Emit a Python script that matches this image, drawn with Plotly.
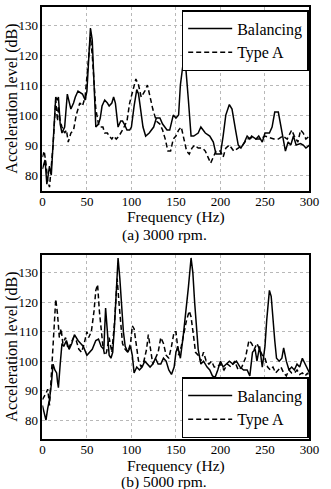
import plotly.graph_objects as go

# ---- (a) 3000 rpm ----
a_bal_f = [0, 2, 3, 5, 8, 10, 12, 14, 15, 17, 18, 20, 22, 25, 27, 28, 32, 35, 37, 40, 45, 48, 50, 52, 54, 56, 58, 60, 63, 65, 67, 70, 73, 75, 78, 80, 82, 85, 88, 90, 92, 95, 98, 100, 103, 106, 108, 110, 113, 116, 120, 125, 128, 132, 135, 140, 143, 147, 150, 153, 155, 158, 161, 164, 167, 170, 175, 178, 183, 188, 192, 195, 198, 200, 203, 206, 210, 213, 217, 220, 223, 227, 230, 233, 235, 240, 243, 247, 250, 255, 258, 261, 265, 268, 271, 273, 276, 279, 282, 285, 290, 293, 296, 300]
a_bal_db = [82, 84, 85, 77, 83, 80, 90, 100, 106, 105, 106, 97, 94, 96, 103, 107, 102, 104, 106, 108, 107, 105, 108, 118, 129, 125, 110, 96, 97, 99, 103, 105, 104, 103, 104, 106, 104, 96, 98, 98, 97, 95, 95, 96, 103, 108.5, 107, 103, 96, 93, 94, 96, 99, 99, 97, 95, 95, 100, 99, 100, 110, 117, 116, 105, 93, 93, 94, 96, 94, 93, 91, 87, 87, 87, 93, 100, 103.5, 102, 95, 90, 89, 91, 93, 92, 93, 92, 93, 91, 94, 94, 96, 101, 101, 96, 91, 88, 91, 90, 93, 90, 90.5, 90, 89, 90]

a_typ_f = [0, 2, 4, 6, 8, 10, 12, 14, 15, 17, 18, 20, 22, 25, 27, 29, 32, 35, 38, 42, 45, 48, 52, 54, 56, 58, 60, 63, 65, 68, 70, 73, 75, 78, 80, 83, 86, 90, 95, 98, 102, 105, 108, 111, 115, 118, 121, 124, 128, 132, 135, 138, 141, 144, 147, 150, 153, 156, 159, 162, 165, 168, 171, 175, 180, 183, 186, 189, 192, 195, 200, 203, 206, 210, 215, 220, 225, 230, 235, 240, 245, 250, 255, 260, 265, 270, 275, 280, 283, 287, 290, 293, 296, 300]
a_typ_db = [86, 88, 84, 78, 76, 82, 90, 100, 105, 98, 103, 98, 96, 94, 95, 91, 94, 95, 100, 104, 103, 106, 119, 126, 120, 110, 102, 97, 96, 96, 94, 94, 93, 92, 93, 92, 93, 95, 98, 104, 109, 112, 110, 106, 108, 110, 106, 102, 98, 97, 95, 92, 88, 88, 92, 93, 95, 96, 92, 88, 87, 89, 90, 89, 89, 88, 86, 84, 86, 88, 88, 86, 89, 90, 88, 89, 90, 92, 92.5, 92, 92, 93, 92.5, 92, 92, 93, 92, 95, 93, 91, 95, 94, 92, 93]

# ---- (b) 5000 rpm ----
b_bal_f = [0, 2, 4, 6, 8, 10, 12, 14, 16, 17, 18, 20, 22, 24, 27, 30, 33, 36, 40, 43, 46, 50, 53, 56, 60, 63, 66, 69, 71, 73, 75, 77, 79, 81, 83, 85, 87, 89, 91, 93, 96, 99, 101, 103, 106, 109, 112, 115, 118, 121, 124, 127, 130, 133, 136, 139, 142, 145, 148, 150, 152, 155, 158, 161, 164, 167, 169, 171, 173, 175, 178, 181, 185, 188, 191, 194, 197, 200, 203, 206, 210, 214, 218, 222, 226, 230, 233, 236, 239, 241, 244, 247, 250, 252, 255, 257, 259, 261, 263, 266, 269, 271, 274, 277, 280, 283, 286, 289, 292, 295, 298, 300]
b_bal_db = [85, 82, 80, 84, 87, 92, 99, 97, 96, 93, 91, 99, 106, 105, 107, 104, 106, 109, 107, 106, 105, 102, 103, 104, 107, 107.5, 105, 104, 118, 110, 102, 101, 103, 112, 125, 135, 128, 118, 110, 105, 103, 105, 102, 96, 98, 97, 98, 100, 99, 98, 99, 101, 99, 99, 101, 100, 97, 95.5, 98, 103, 105, 101, 108, 116, 125, 135, 130, 120, 111, 104, 99, 100, 98, 97, 95, 94.5, 97, 100, 98, 99, 100, 99, 100, 98, 97, 97, 95, 103, 104, 100, 105, 98, 105, 114, 124, 122, 113, 107, 101, 100, 101, 104.5, 100, 97, 98, 97, 99, 98, 101, 99, 97, 96]

b_typ_f = [0, 2, 4, 6, 8, 10, 12, 14, 15, 17, 19, 21, 23, 26, 29, 32, 35, 38, 41, 44, 47, 50, 52, 55, 58, 60, 62, 64, 66, 68, 70, 72, 75, 78, 81, 84, 86, 88, 90, 93, 96, 99, 101, 103, 105, 108, 111, 114, 117, 119, 121, 124, 127, 130, 133, 136, 139, 142, 145, 148, 150, 153, 156, 159, 162, 165, 167, 170, 172, 175, 178, 181, 184, 187, 190, 193, 196, 200, 204, 208, 212, 216, 220, 224, 228, 232, 235, 238, 241, 244, 247, 250, 253, 256, 259, 262, 265, 268, 271, 274, 277, 280, 283, 286, 289, 292, 295, 298, 300]
b_typ_db = [87, 88, 89, 90.5, 85, 95, 105, 115, 121, 116, 108, 111, 106, 108, 104, 106, 108, 107, 104, 103, 106, 110, 108, 110, 117, 124, 126, 117, 110, 105, 102, 103, 108, 103, 113, 128, 120, 112, 106, 104, 103, 106, 112, 111, 106, 100, 98, 100, 104, 109, 105, 99, 101, 103, 108, 106, 102, 101, 105, 110, 110, 102, 105, 110, 114, 117, 115, 108, 103, 102, 100, 103, 100, 99, 100, 98, 98, 99, 97, 99, 98, 100, 97, 98, 101, 107, 106, 104, 106, 104, 102, 101, 98, 97, 98, 96, 97, 98, 96, 95, 97, 96, 96, 97, 95.5, 96, 95, 96, 94]

x_ticks = [0, 50, 100, 150, 200, 250, 300]
y_ticks = [80, 90, 100, 110, 120, 130]
series_names = ["Balancing", "Type A"]
captions = ["(a) 3000 rpm.", "(b) 5000 rpm."]
x_title = "Frequency (Hz)"
y_title = "Acceleration level (dB)"

FONT = "Liberation Serif"
W, H = 331, 489

fig = go.Figure()
line_solid = dict(color="black", width=1.5, dash="solid")
line_dash = dict(color="black", width=1.5, dash="5px,3px")

fig.add_trace(go.Scatter(x=a_bal_f, y=a_bal_db, mode="lines", name=series_names[0],
                         line=line_solid, xaxis="x", yaxis="y", legend="legend"))
fig.add_trace(go.Scatter(x=a_typ_f, y=a_typ_db, mode="lines", name=series_names[1],
                         line=line_dash, xaxis="x", yaxis="y", legend="legend"))
fig.add_trace(go.Scatter(x=b_bal_f, y=b_bal_db, mode="lines", name=series_names[0],
                         line=line_solid, xaxis="x2", yaxis="y2", legend="legend2"))
fig.add_trace(go.Scatter(x=b_typ_f, y=b_typ_db, mode="lines", name=series_names[1],
                         line=line_dash, xaxis="x2", yaxis="y2", legend="legend2"))

xdom = [41 / W, 319 / W]
ydom_a = [1 - 191 / H, 1 - 7 / H]
ydom_b = [1 - 439 / H, 1 - 255 / H]

axis_common = dict(showline=True, linecolor="black", linewidth=1.5, mirror=True,
                   showgrid=True, gridcolor="#b8b8b8", griddash="dot", gridwidth=1,
                   zeroline=False, ticks="", tickfont=dict(family=FONT, size=13, color="black"))

legend_common = dict(xanchor="left", bgcolor="white", bordercolor="black", borderwidth=1.5,
                     font=dict(family=FONT, size=16, color="black"),
                     tracegroupgap=0, itemwidth=44)

fig.update_layout(
    width=W, height=H,
    margin=dict(l=0, r=0, t=0, b=0),
    paper_bgcolor="white", plot_bgcolor="white",
    font=dict(family=FONT, color="black"),
    xaxis=dict(domain=xdom, range=[0, 300], tickvals=x_ticks, anchor="y",
               ticklabelstandoff=-2, **axis_common),
    yaxis=dict(domain=ydom_a, range=[74.7, 136], tickvals=y_ticks, anchor="x", **axis_common),
    xaxis2=dict(domain=xdom, range=[0, 300], tickvals=x_ticks, anchor="y2",
                ticklabelstandoff=-2, **axis_common),
    yaxis2=dict(domain=ydom_b, range=[73.6, 136], tickvals=y_ticks, anchor="x2", **axis_common),
    legend=dict(x=186 / W, y=1 - 10 / H, yanchor="top", **legend_common),
    legend2=dict(x=186 / W, y=1 - 438 / H, yanchor="bottom", **legend_common),
    showlegend=True,
)

ann = []
for cap, xt_y, cap_y, ymid in [(captions[0], 217, 235, (7 + 191) / 2),
                               (captions[1], 466, 482, (255 + 439) / 2)]:
    ann.append(dict(text=x_title, x=180 / W, y=1 - xt_y / H, xref="paper", yref="paper",
                    showarrow=False, xanchor="center", yanchor="middle",
                    font=dict(family=FONT, size=15.5, color="black")))
    ann.append(dict(text=cap, x=168 / W, y=1 - cap_y / H, xref="paper", yref="paper",
                    showarrow=False, xanchor="center", yanchor="middle",
                    font=dict(family=FONT, size=15.5, color="black")))
    ann.append(dict(text=y_title, x=9 / W, y=1 - ymid / H, xref="paper", yref="paper",
                    showarrow=False, xanchor="center", yanchor="middle", textangle=-90,
                    font=dict(family=FONT, size=16, color="black")))
fig.update_layout(annotations=ann)

fig.write_html("out.html")
